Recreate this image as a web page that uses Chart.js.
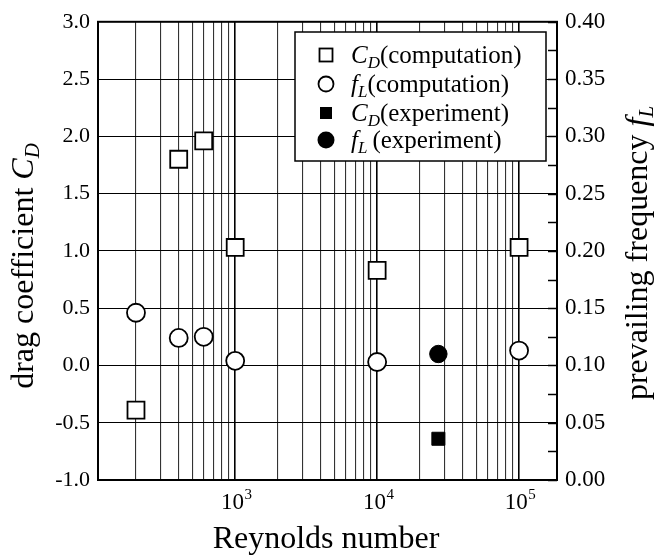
<!DOCTYPE html>
<html><head><meta charset="utf-8">
<script src="https://cdn.jsdelivr.net/npm/chart.js@4/dist/chart.umd.min.js"></script>
<style>html,body{margin:0;padding:0;background:#fff}#wrap{width:657px;height:559px;position:relative}</style>
</head><body><div id="wrap"><canvas id="c" width="657" height="559"></canvas></div>
<script>
// ---- data ----
const reComp = [200, 400, 600, 1000, 10000, 100000];
const cdComp = [-0.39, 1.80, 1.96, 1.03, 0.83, 1.03];
const flComp = [0.146, 0.124, 0.125, 0.104, 0.103, 0.113];
const reExp = [27000];
const cdExp = [-0.64];
const flExp = [0.110];
const xDecades = [100, 1000, 10000, 100000];
const xLabelValues = [1000, 10000, 100000];
const xLabelExponents = ['3', '4', '5'];
const legendItems = [
  {sym: 'C', sub: 'D', rest: '(computation)'},
  {sym: 'f', sub: 'L', rest: '(computation)'},
  {sym: 'C', sub: 'D', rest: '(experiment)'},
  {sym: 'f', sub: 'L', rest: '\u2009(experiment)'}
];

const SERIF = '"Liberation Serif", "Times New Roman", serif';
const toPts = (xs, ys) => xs.map((x, i) => ({x: x, y: ys[i]}));

// log grid positions (1..9 x 10^k)
const xGrid = [];
xDecades.forEach(d => { for (let m = 1; m <= 9; m++) xGrid.push(m * d); });

function drawRich(ctx, parts, x, y, align) {
  let total = 0;
  parts.forEach(p => {
    ctx.font = (p.italic ? 'italic ' : '') + p.size + 'px ' + SERIF;
    p.w = ctx.measureText(p.t).width;
    total += p.w;
  });
  let cx = align === 'center' ? x - total / 2 : x;
  parts.forEach(p => {
    ctx.font = (p.italic ? 'italic ' : '') + p.size + 'px ' + SERIF;
    ctx.fillText(p.t, cx, y + (p.dy || 0));
    cx += p.w;
  });
  return total;
}

const deco = {
  id: 'deco',
  afterDraw(chart) {
    const {ctx, chartArea: a, scales} = chart;
    ctx.save();
    ctx.fillStyle = '#000';
    ctx.strokeStyle = '#000';
    // frame
    ctx.lineWidth = 2;
    ctx.strokeRect(a.left, a.top, a.right - a.left, a.bottom - a.top);
    // inward ticks on right axis
    ctx.lineWidth = 1.5;
    scales.y2.ticks.forEach(t => {
      const py = Math.round(scales.y2.getPixelForValue(t.value)) + 0.5;
      ctx.beginPath(); ctx.moveTo(a.right, py); ctx.lineTo(a.right - 9, py); ctx.stroke();
    });
    // x tick labels 10^n
    ctx.textAlign = 'left';
    ctx.textBaseline = 'alphabetic';
    xLabelValues.forEach((v, i) => {
      const px = scales.x.getPixelForValue(v);
      ctx.font = '23px ' + SERIF;
      const w1 = ctx.measureText('10').width;
      ctx.font = '15px ' + SERIF;
      const w2 = ctx.measureText(xLabelExponents[i]).width;
      const start = px + 1 - (w1 + w2) / 2;
      ctx.font = '23px ' + SERIF;
      ctx.fillText('10', start, 509);
      ctx.font = '15px ' + SERIF;
      ctx.fillText(xLabelExponents[i], start + w1 + 0.5, 499);
    });
    // bottom title
    drawRich(ctx, [{t: 'Reynolds number', size: 32}], 326, 548, 'center');
    // left title
    ctx.save();
    ctx.translate(33, 266);
    ctx.rotate(-Math.PI / 2);
    drawRich(ctx, [{t: 'drag coefficient ', size: 32}, {t: 'C', italic: true, size: 32}, {t: 'D', italic: true, size: 21, dy: 6}], 0, 0, 'center');
    ctx.restore();
    // right title
    ctx.save();
    ctx.translate(647, 253);
    ctx.rotate(-Math.PI / 2);
    drawRich(ctx, [{t: 'prevailing frequency ', size: 32}, {t: 'f', italic: true, size: 32}, {t: 'L', italic: true, size: 21, dy: 6}], 0, 0, 'center');
    ctx.restore();
    // legend
    const lx = 295, ly = 32, lw = 251, lh = 129;
    ctx.fillStyle = '#fff';
    ctx.fillRect(lx, ly, lw, lh);
    ctx.lineWidth = 1.5;
    ctx.strokeRect(lx, ly, lw, lh);
    const rows = [55, 84, 113, 140];
    const mx = 326;
    ctx.lineWidth = 1.8;
    ctx.fillStyle = '#fff';
    ctx.fillRect(mx - 6.5, rows[0] - 6.5, 13, 13);
    ctx.strokeRect(mx - 6.5, rows[0] - 6.5, 13, 13);
    ctx.beginPath(); ctx.arc(mx, rows[1], 7.5, 0, Math.PI * 2); ctx.fill(); ctx.stroke();
    ctx.fillStyle = '#000';
    ctx.fillRect(mx - 6, rows[2] - 6, 12, 12);
    ctx.beginPath(); ctx.arc(mx, rows[3], 8.5, 0, Math.PI * 2); ctx.fill();
    ctx.textBaseline = 'alphabetic';
    legendItems.forEach((it, i) => {
      drawRich(ctx, [
        {t: it.sym, italic: true, size: 25},
        {t: it.sub, italic: true, size: 17, dy: 5},
        {t: it.rest, size: 25}
      ], 351, rows[i] + 8, 'left');
    });
    ctx.restore();
  }
};

new Chart(document.getElementById('c'), {
  type: 'scatter',
  data: {
    datasets: [
      {label: 'CD computation', data: toPts(reComp, cdComp), yAxisID: 'y',
       pointStyle: 'rect', pointRadius: 12, backgroundColor: '#fff', borderColor: '#000', borderWidth: 1.8},
      {label: 'fL computation', data: toPts(reComp, flComp), yAxisID: 'y2',
       pointStyle: 'circle', pointRadius: 9, backgroundColor: '#fff', borderColor: '#000', borderWidth: 1.8},
      {label: 'CD experiment', data: toPts(reExp, cdExp), yAxisID: 'y',
       pointStyle: 'rect', pointRadius: 9.2, backgroundColor: '#000', borderColor: '#000', borderWidth: 1},
      {label: 'fL experiment', data: toPts(reExp, flExp), yAxisID: 'y2',
       pointStyle: 'circle', pointRadius: 8.7, backgroundColor: '#000', borderColor: '#000', borderWidth: 1}
    ]
  },
  options: {
    responsive: false,
    animation: false,
    events: [],
    layout: {padding: {top: 20, left: 0, right: 0, bottom: 0}},
    plugins: {legend: {display: false}, tooltip: {enabled: false}},
    scales: {
      x: {
        type: 'logarithmic', min: 108, max: 185000,
        afterBuildTicks: s => { s.ticks = xGrid.filter(v => v >= 108 && v <= 185000).map(v => ({value: v})); },
        afterFit: s => { s.height = 79; },
        ticks: {display: false},
        grid: {
          drawTicks: false,
          color: c => { const v = c.tick && c.tick.value; return (v && Math.abs(Math.log10(v) - Math.round(Math.log10(v))) < 1e-9) ? '#000' : '#333'; },
          lineWidth: c => { const v = c.tick && c.tick.value; return (v && Math.abs(Math.log10(v) - Math.round(Math.log10(v))) < 1e-9) ? 1.6 : 1.1; }
        },
        border: {display: true, color: '#000', width: 2}
      },
      y: {
        position: 'left', min: -1, max: 3,
        afterFit: s => { s.width = 98; },
        ticks: {stepSize: 0.5, padding: 8, color: '#000', font: {family: SERIF, size: 22},
                callback: v => Number(v).toFixed(1)},
        grid: {drawTicks: false, color: '#000', lineWidth: 1.1},
        border: {display: true, color: '#000', width: 2}
      },
      y2: {
        position: 'right', min: 0, max: 0.4,
        afterFit: s => { s.width = 100; },
        ticks: {stepSize: 0.025, autoSkip: false, padding: 8, color: '#000', font: {family: SERIF, size: 23},
                callback: v => (Math.round(v * 1000) % 50 === 0) ? Number(v).toFixed(2) : ''},
        grid: {display: false, drawTicks: false},
        border: {display: true, color: '#000', width: 2}
      }
    }
  },
  plugins: [deco]
});
</script>
</body></html>
